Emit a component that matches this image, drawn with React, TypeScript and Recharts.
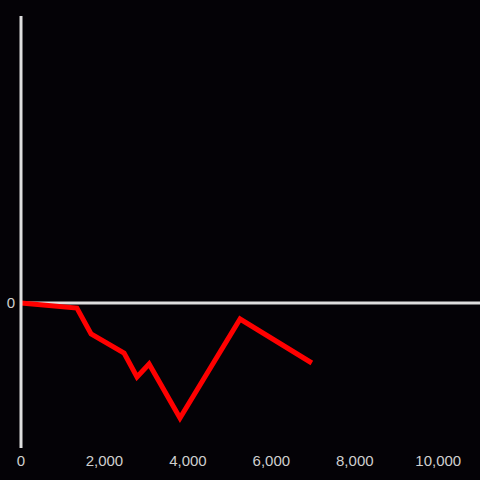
import { LineChart, Line, XAxis, YAxis, ReferenceLine } from 'recharts'

const xValues = [0, 1340, 1680, 2470, 2780, 3070, 3810, 5250, 6970]
const yValues = [0, -5, -31, -50, -74, -61, -115, -16, -60]
const xTicks = [0, 2000, 4000, 6000, 8000, 10000]
const yTicks = [0]

const data = xValues.map((x, i) => ({ x, y: yValues[i] }))

const tickStyle = { fill: '#cfcfcf', fontSize: 15, fontFamily: 'Liberation Sans, Arial, sans-serif' }

export default function App() {
  return (
    <div style={{ position: 'absolute', left: 0, top: 0, width: 480, height: 480, background: '#040206' }}>
      <LineChart width={480} height={480} data={data} margin={{ top: 16, right: 0, bottom: 0, left: 0 }}>
        <XAxis
          dataKey="x"
          type="number"
          domain={[0, 11000]}
          ticks={xTicks}
          tickFormatter={(v: number) => v.toLocaleString('en-US')}
          axisLine={false}
          tickLine={false}
          tickMargin={1}
          height={32}
          tick={tickStyle}
          interval={0}
        />
        <YAxis
          type="number"
          domain={[-145, 287]}
          ticks={yTicks}
          width={21}
          axisLine={{ stroke: '#dedede', strokeWidth: 3 }}
          tickLine={false}
          tickMargin={0}
          tick={tickStyle}
        />
        <ReferenceLine y={0} stroke="#dedede" strokeWidth={3} />
        <Line
          dataKey="y"
          stroke="#ff0000"
          strokeWidth={5}
          dot={false}
          type="linear"
          isAnimationActive={false}
        />
      </LineChart>
    </div>
  )
}
